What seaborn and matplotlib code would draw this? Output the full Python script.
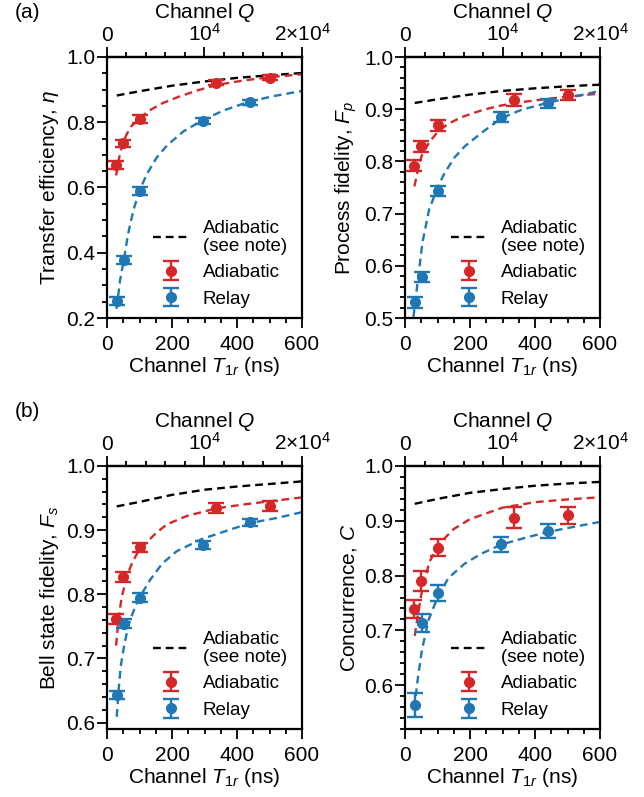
import numpy as np
import pandas as pd
import matplotlib
matplotlib.use("Agg")
import matplotlib.pyplot as plt
from matplotlib.ticker import MultipleLocator, FixedLocator
import seaborn as sns

# ---------------------------------------------------------------- data
# measured channel T1r (ns) for each protocol
t_adi = [28, 50, 101, 335, 503]
t_rel = [32, 52, 100, 294, 440]

# (a) transfer efficiency
eta_adi = [0.668, 0.736, 0.811, 0.921, 0.937]
eta_adi_err = [0.012, 0.011, 0.012, 0.008, 0.008]
eta_rel = [0.252, 0.378, 0.589, 0.803, 0.861]
eta_rel_err = [0.013, 0.012, 0.012, 0.009, 0.008]

# (a) process fidelity
fp_adi = [0.792, 0.829, 0.869, 0.918, 0.927]
fp_adi_err = [0.011, 0.011, 0.010, 0.011, 0.010]
fp_rel = [0.530, 0.579, 0.743, 0.885, 0.911]
fp_rel_err = [0.010, 0.010, 0.010, 0.009, 0.009]

# (b) Bell state fidelity
fs_adi = [0.761, 0.827, 0.873, 0.934, 0.938]
fs_adi_err = [0.008, 0.008, 0.007, 0.008, 0.008]
fs_rel = [0.643, 0.754, 0.795, 0.877, 0.912]
fs_rel_err = [0.007, 0.007, 0.007, 0.006, 0.005]

# (b) concurrence
c_adi = [0.739, 0.790, 0.851, 0.906, 0.910]
c_adi_err = [0.016, 0.019, 0.016, 0.020, 0.015]
c_rel = [0.563, 0.713, 0.768, 0.857, 0.881]
c_rel_err = [0.022, 0.016, 0.014, 0.014, 0.013]

# model curves (T1r in ns, value)
eta_lim_t = [30, 100, 200, 300, 400, 500, 600]
eta_lim_v = [0.882, 0.895, 0.912, 0.925, 0.936, 0.944, 0.951]
eta_adi_t = [28, 35, 42, 50, 60, 75, 100, 130, 170, 220, 280, 340, 420, 500, 600]
eta_adi_v = [0.637, 0.680, 0.712, 0.738, 0.762, 0.788, 0.812, 0.836, 0.858,
             0.878, 0.898, 0.915, 0.928, 0.938, 0.947]
eta_rel_t = [29, 32, 40, 52, 65, 81, 100, 122, 153, 184, 235, 292, 358, 437, 512, 600]
eta_rel_v = [0.228, 0.250, 0.314, 0.380, 0.458, 0.530, 0.590, 0.640, 0.692,
             0.728, 0.772, 0.805, 0.836, 0.863, 0.880, 0.896]

fp_lim_t = [30, 100, 200, 300, 400, 500, 600]
fp_lim_v = [0.912, 0.919, 0.928, 0.935, 0.940, 0.944, 0.947]
fp_adi_t = [29, 40, 52, 76, 103, 133, 175, 236, 287, 339, 441, 514, 600]
fp_adi_v = [0.752, 0.785, 0.812, 0.838, 0.858, 0.872, 0.885, 0.898, 0.906,
            0.912, 0.920, 0.925, 0.930]
fp_rel_t = [26, 41, 54, 74, 100, 122, 153, 184, 236, 297, 359, 438, 513, 600]
fp_rel_v = [0.502, 0.580, 0.646, 0.707, 0.750, 0.778, 0.808, 0.829, 0.855,
            0.883, 0.899, 0.912, 0.923, 0.935]

fs_lim_t = [30, 100, 200, 300, 400, 500, 600]
fs_lim_v = [0.937, 0.944, 0.955, 0.963, 0.968, 0.972, 0.976]
fs_adi_t = [28, 35, 45, 55, 66, 80, 100, 122, 150, 184, 245, 337, 420, 501, 600]
fs_adi_v = [0.720, 0.760, 0.795, 0.815, 0.835, 0.852, 0.870, 0.881, 0.895,
            0.909, 0.922, 0.934, 0.940, 0.945, 0.951]
fs_rel_t = [30, 35, 42, 52, 66, 81, 100, 132, 170, 214, 291, 368, 440, 522, 600]
fs_rel_v = [0.609, 0.646, 0.687, 0.718, 0.752, 0.773, 0.795, 0.822, 0.848,
            0.867, 0.886, 0.899, 0.911, 0.919, 0.928]

c_lim_t = [30, 100, 200, 300, 400, 500, 600]
c_lim_v = [0.931, 0.940, 0.951, 0.958, 0.964, 0.968, 0.971]
c_adi_t = [30, 40, 50, 60, 75, 100, 125, 150, 200, 300, 400, 500, 600]
c_adi_v = [0.690, 0.730, 0.765, 0.790, 0.825, 0.852, 0.870, 0.885, 0.903,
           0.924, 0.934, 0.939, 0.943]
c_rel_t = [33, 40, 52, 73, 100, 134, 184, 235, 298, 370, 442, 520, 600]
c_rel_v = [0.580, 0.615, 0.664, 0.720, 0.760, 0.796, 0.822, 0.840, 0.857,
           0.869, 0.880, 0.889, 0.898]

q_ticks = [0, 1e4, 2e4]
q_ticklabels = ["0", "10$^{4}$", "2×10$^{4}$"]
t_ticks = [0, 200, 400, 600]
q_per_ns = 2e4 / 600

legend_labels = ["Adiabatic\n(see note)", "Adiabatic", "Relay"]

# ---------------------------------------------------------------- style
FS = 15
LEG_FS = 13.5
sns.set_theme(style="ticks")
plt.rcParams["font.family"] = ["Liberation Sans", "DejaVu Sans"]
plt.rcParams.update({
    "font.size": FS,
    "axes.labelsize": FS,
    "xtick.labelsize": FS,
    "ytick.labelsize": FS,
    "mathtext.fontset": "custom",
    "mathtext.rm": "Liberation Sans",
    "mathtext.it": "Liberation Sans:italic",
    "mathtext.bf": "Liberation Sans:bold",
    "axes.linewidth": 1.6,
    "axes.edgecolor": "black",
    "text.color": "black",
    "axes.labelcolor": "black",
    "xtick.color": "black",
    "ytick.color": "black",
})

RED = "#d62728"
BLUE = "#1f77b4"
DASH = (0, (3.3, 2.1))

fig = plt.figure(figsize=(6.44, 7.97), dpi=100)

W = 195 / 644
H1 = 261 / 797
H2 = 263 / 797
positions = [
    [107 / 644, 1 - 318 / 797, W, H1],
    [405 / 644, 1 - 318 / 797, W, H1],
    [107 / 644, 1 - 729 / 797, W, H2],
    [405 / 644, 1 - 729 / 797, W, H2],
]

panels = [
    dict(ylabel=r"Transfer efficiency, $\eta$", ylim=(0.2, 1.0), major=0.2, minor=0.05,
         lim=(eta_lim_t, eta_lim_v), adi_fit=(eta_adi_t, eta_adi_v), rel_fit=(eta_rel_t, eta_rel_v),
         adi=(eta_adi, eta_adi_err), rel=(eta_rel, eta_rel_err)),
    dict(ylabel=r"Process fidelity, $F_p$", ylim=(0.5, 1.0), major=0.1, minor=0.02,
         lim=(fp_lim_t, fp_lim_v), adi_fit=(fp_adi_t, fp_adi_v), rel_fit=(fp_rel_t, fp_rel_v),
         adi=(fp_adi, fp_adi_err), rel=(fp_rel, fp_rel_err)),
    dict(ylabel=r"Bell state fidelity, $F_s$", ylim=(0.59, 1.0), major=0.1, minor=0.02,
         lim=(fs_lim_t, fs_lim_v), adi_fit=(fs_adi_t, fs_adi_v), rel_fit=(fs_rel_t, fs_rel_v),
         adi=(fs_adi, fs_adi_err), rel=(fs_rel, fs_rel_err)),
    dict(ylabel=r"Concurrence, $C$", ylim=(0.52, 1.0), major=0.1, minor=0.02,
         lim=(c_lim_t, c_lim_v), adi_fit=(c_adi_t, c_adi_v), rel_fit=(c_rel_t, c_rel_v),
         adi=(c_adi, c_adi_err), rel=(c_rel, c_rel_err)),
]


def curve(ax, t, v, color):
    df = pd.DataFrame({"t": t, "v": v})
    sns.lineplot(data=df, x="t", y="v", ax=ax, color=color, lw=1.7,
                 linestyle=DASH, sort=False, estimator=None)
    return ax.lines[-1]


for pos, p in zip(positions, panels):
    ax = fig.add_axes(pos)
    h_lim = curve(ax, *p["lim"], "black")
    curve(ax, *p["adi_fit"], RED)
    curve(ax, *p["rel_fit"], BLUE)

    eb_kw = dict(fmt="o", ms=7, capsize=5.5, capthick=1.7, elinewidth=1.7, zorder=5)
    h_adi = ax.errorbar(t_adi, p["adi"][0], yerr=p["adi"][1], color=RED, **eb_kw)
    h_rel = ax.errorbar(t_rel, p["rel"][0], yerr=p["rel"][1], color=BLUE, **eb_kw)

    ax.set_xlim(0, 600)
    ax.set_ylim(*p["ylim"])
    ax.xaxis.set_major_locator(FixedLocator(t_ticks))
    ax.xaxis.set_minor_locator(MultipleLocator(50))
    lo = np.ceil(p["ylim"][0] / p["major"] - 1e-9) * p["major"]
    yt = np.arange(lo, 1.0 + 1e-9, p["major"])
    ax.yaxis.set_major_locator(FixedLocator(yt))
    ax.set_yticklabels(["{:.1f}".format(v) for v in yt])
    ax.yaxis.set_minor_locator(MultipleLocator(p["minor"]))

    ax.tick_params(which="both", direction="out", top=False, right=False, width=1.3)
    ax.tick_params(which="major", length=7)
    ax.tick_params(which="minor", length=3.5)
    ax.tick_params(axis="y", pad=1.5)
    ax.tick_params(axis="x", pad=5)
    for s in ax.spines.values():
        s.set_visible(True)
        s.set_linewidth(1.6)

    ax.set_xlabel("Channel $T_{1r}$ (ns)", labelpad=1)
    ax.set_ylabel(p["ylabel"], labelpad=4)

    sec = ax.secondary_xaxis("top", functions=(lambda t: t * q_per_ns, lambda q: q / q_per_ns))
    sec.xaxis.set_major_locator(FixedLocator(q_ticks))
    sec.set_xticklabels(q_ticklabels)
    sec.xaxis.set_minor_locator(MultipleLocator(2000))
    sec.tick_params(which="both", direction="out", width=1.3, pad=1.5)
    sec.tick_params(which="major", length=7)
    sec.tick_params(which="minor", length=3.5)
    sec.spines["top"].set_linewidth(1.6)
    sec.set_xlabel("Channel $Q$", labelpad=4)

    leg = ax.legend([h_lim, h_adi, h_rel], legend_labels, loc="lower left",
                    bbox_to_anchor=(0.15, -0.025), frameon=False, handlelength=1.95,
                    handletextpad=0.7, labelspacing=0.5, borderpad=0.4,
                    fontsize=LEG_FS)
    leg.get_texts()[0].set_linespacing(1.05)

fig.text(15 / 644, 1 - 3 / 797, "(a)", ha="left", va="top", fontsize=FS)
fig.text(15 / 644, 1 - 402 / 797, "(b)", ha="left", va="top", fontsize=FS)

fig.savefig("out.png", dpi=100)
